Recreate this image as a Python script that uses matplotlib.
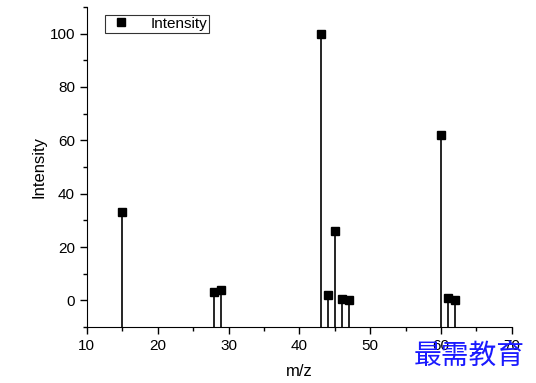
import numpy as np
import matplotlib.pyplot as plt
from matplotlib.ticker import MultipleLocator

#%% data
mz = [15, 28, 29, 43, 44, 45, 46, 47, 60, 61, 62]
intensity = [33, 3, 4, 100, 2, 26, 0.5, 0, 62, 1, 0]

#%% figure
plt.rcParams['font.family'] = ['Liberation Sans', 'DejaVu Sans']
fig = plt.figure(figsize=(5.36, 3.83), dpi=100)
ax = fig.add_axes([0.162, 0.146, 0.793, 0.836])

ymin = -10
ax.vlines(mz, ymin, intensity, color='black', lw=1.2)
ax.plot(mz, intensity, 's', color='black', ms=5.5, label='Intensity', clip_on=False)

ax.set_xlim(10, 70)
ax.set_ylim(ymin, 110)
ax.xaxis.set_major_locator(MultipleLocator(10))
ax.xaxis.set_minor_locator(MultipleLocator(5))
ax.yaxis.set_major_locator(MultipleLocator(20))
ax.yaxis.set_minor_locator(MultipleLocator(10))
ax.tick_params(which='major', direction='out', length=5, width=1, labelsize=11)
ax.tick_params(which='minor', direction='out', length=3, width=1)

ax.spines['top'].set_visible(False)
ax.spines['right'].set_visible(False)

ax.set_xlabel('m/z', fontsize=12, labelpad=8)
ax.set_ylabel('Intensity', fontsize=12, labelpad=2)

leg = ax.legend(loc='upper left', bbox_to_anchor=(0.025, 1.0), frameon=True,
                fancybox=False, edgecolor='black', fontsize=11,
                handlelength=1.8, handletextpad=1.0, borderpad=0.15)
leg.get_frame().set_linewidth(0.8)

# watermark text in the corner
fig.text(0.772, 0.07, '最需教育', color='#1a1aff', fontsize=20, va='center',
         family=['Noto Sans CJK SC', 'DejaVu Sans'])

fig.savefig('out.png', dpi=100)
